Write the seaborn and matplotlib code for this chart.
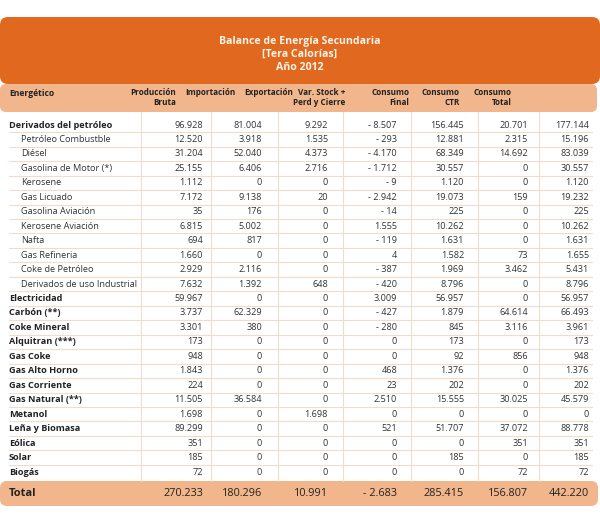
from matplotlib import pyplot as plt
from matplotlib.patches import FancyBboxPatch
import seaborn as sns

# datos de la tabla (Tera Calorias, año 2012)
energeticos = ['Derivados del petróleo', 'Petróleo Combustble', 'Diésel',
               'Gasolina de Motor (*)', 'Kerosene', 'Gas Licuado',
               'Gasolina Aviación', 'Kerosene Aviación', 'Nafta', 'Gas Refineria',
               'Coke de Petróleo', 'Derivados de uso Industrial', 'Electricidad',
               'Carbón (**)', 'Coke Mineral', 'Alquitran (***)', 'Gas Coke',
               'Gas Alto Horno', 'Gas Corriente', 'Gas Natural (**)', 'Metanol',
               'Leña y Biomasa', 'Eólica', 'Solar', 'Biogás']
subitem = [False] + [True] * 11 + [False] * 13

produccion = [96928, 12520, 31204, 25155, 1112, 7172, 35, 6815, 694, 1660, 2929, 7632,
              59967, 3737, 3301, 173, 948, 1843, 224, 11505, 1698, 89299, 351, 185, 72]
importacion = [81004, 3918, 52040, 6406, 0, 9138, 176, 5002, 817, 0, 2116, 1392,
               0, 62329, 380, 0, 0, 0, 0, 36584, 0, 0, 0, 0, 0]
exportacion = [9292, 1535, 4373, 2716, 0, 20, 0, 0, 0, 0, 0, 648,
               0, 0, 0, 0, 0, 0, 0, 0, 1698, 0, 0, 0, 0]
var_stock = [-8507, -293, -4170, -1712, -9, -2942, -14, 1555, -119, 4, -387, -420,
             3009, -427, -280, 0, 0, 468, 23, 2510, 0, 521, 0, 0, 0]
consumo_final = [156445, 12881, 68349, 30557, 1120, 19073, 225, 10262, 1631, 1582, 1969, 8796,
                 56957, 1879, 845, 173, 92, 1376, 202, 15555, 0, 51707, 0, 185, 0]
consumo_ctr = [20701, 2315, 14692, 0, 0, 159, 0, 0, 0, 73, 3462, 0,
               0, 64614, 3116, 0, 856, 0, 0, 30025, 0, 37072, 351, 0, 72]
consumo_total = [177144, 15196, 83039, 30557, 1120, 19232, 225, 10262, 1631, 1655, 5431, 8796,
                 56957, 66493, 3961, 173, 948, 1376, 202, 45579, 0, 88778, 351, 185, 72]
totales = [270233, 180296, 10991, -2683, 285415, 156807, 442220]

encabezados = ['Producción\nBruta', 'Importación', 'Exportación', 'Var. Stock +\nPerd y Cierre',
               'Consumo\nFinal', 'Consumo\nCTR', 'Consumo\nTotal']
titulo = 'Balance de Energía Secundaria\n[Tera Calorías]\nAño 2012'


def fmt(v):
    s = f'{abs(v):,}'.replace(',', '.')
    return f'- {s}' if v < 0 else s


sns.set_theme(style='white')
plt.rcParams['font.family'] = ['Open Sans', 'DejaVu Sans']

naranjo = '#E1691F'
claro = '#F1B68C'
linea = '#F0DCCD'
texto = '#222222'

fig = plt.figure(figsize=(6.0, 5.24), dpi=100)
ax = fig.add_axes([0, 0, 1, 1])
ax.set_xlim(0, 600)
ax.set_ylim(524, 0)
ax.axis('off')

# caja del titulo
ax.add_patch(FancyBboxPatch((0, 17), 600, 67, boxstyle='round,pad=0,rounding_size=8',
                            fc=naranjo, ec='none'))
ax.text(300, 54.5, titulo, ha='center', va='center', color='#FFF4EA', fontsize=7.6,
        fontweight='bold', linespacing=1.3)

# banda de encabezados
ax.add_patch(FancyBboxPatch((0, 84), 597, 28, boxstyle='round,pad=0,rounding_size=6',
                            fc=claro, ec='none'))
ax.text(9, 93, 'Energético', ha='left', va='center', fontsize=6.2, fontweight='bold', color=texto)
x_enc = [176, 235, 293, 345, 409, 460, 512]
for x, h in zip(x_enc, encabezados):
    ax.text(x, 88, h, ha='right', va='top', fontsize=5.9, fontweight='bold',
            color=texto, linespacing=1.15)

# cuerpo
columnas = [produccion, importacion, exportacion, var_stock,
            consumo_final, consumo_ctr, consumo_total]
x_der = [203, 262, 328, 397, 464, 528, 589]
x_div = [141, 211, 278, 343, 411, 478, 539]
y0, paso = 125, 14.46

for x in x_div:
    ax.plot([x, x], [112, 481], color=linea, lw=0.8)

for i, nombre in enumerate(energeticos):
    y = y0 + i * paso
    if i < len(energeticos) - 1:
        ax.plot([9, 592], [y + paso / 2, y + paso / 2], color=linea, lw=0.8)
    if subitem[i]:
        ax.text(21, y, nombre, ha='left', va='center', fontsize=6.6, color='#333333')
    else:
        ax.text(9, y, nombre, ha='left', va='center', fontsize=6.6,
                fontweight='bold', color=texto)
    for x, col in zip(x_der, columnas):
        ax.text(x, y, fmt(col[i]), ha='right', va='center', fontsize=6.6, color='#333333')

# fila total
ax.add_patch(FancyBboxPatch((0, 481), 598, 25, boxstyle='round,pad=0,rounding_size=7',
                            fc=claro, ec='none'))
ax.text(9, 493.5, 'Total', ha='left', va='center', fontsize=8, fontweight='bold', color=texto)
for x, v in zip(x_der, totales):
    ax.text(x, 493.5, fmt(v), ha='right', va='center', fontsize=7.8, color=texto)

fig.savefig('out.png', dpi=100)
